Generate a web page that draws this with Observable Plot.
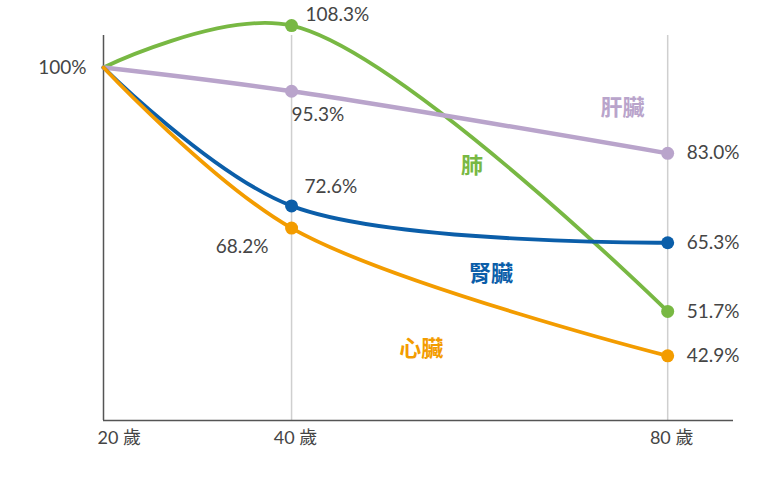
<!DOCTYPE html>
<html>
<head>
<meta charset="utf-8">
<script src="https://cdn.jsdelivr.net/npm/d3@7"></script>
<script src="https://cdn.jsdelivr.net/npm/@observablehq/plot@0.6"></script>
<style>
  html, body { margin: 0; padding: 0; background: #fff; }
  #chart svg { display: block; }
</style>
</head>
<body>
<div id="chart"></div>
<script>
// ---- data ----
const ages = [20, 40, 80];
const seriesNames = ["肺", "肝臟", "腎臟", "心臟"];
const lung   = [100, 108.3, 51.7];
const liver  = [100, 95.3, 83.0];
const kidney = [100, 72.6, 65.3];
const heart  = [100, 68.2, 42.9];
const seriesColors = ["#78b843", "#b9a4cb", "#0b5ea9", "#f39c00"];
const seriesWidths = [3.8, 4.4, 3.8, 3.8];
const xTickLabels = ["20 歲", "40 歲", "80 歲"];
const yTicks = [100];
// where each organ's name is written (age, %)
const nameAtAge = [59.2, 75.2, 61.2, 53.8];
const nameAtPct = [80.6, 91.9, 59.2, 44.2];
// label placement for the value labels (series index, age) -> offsets
const labelPlacement = {
  "0-40": {dx: 14, dy: -11, anchor: "start"},
  "1-40": {dx: 0, dy: 24, anchor: "start"},
  "2-40": {dx: 13, dy: -19, anchor: "start"},
  "3-40": {dx: -23, dy: 19, anchor: "end"},
  "0-80": {dx: 19, dy: 0, anchor: "start"},
  "1-80": {dx: 19, dy: 0, anchor: "start"},
  "2-80": {dx: 19, dy: 0, anchor: "start"},
  "3-80": {dx: 19, dy: 0, anchor: "start"}
};

const allValues = [lung, liver, kidney, heart];
const rows = [];
allValues.forEach((vals, s) => {
  vals.forEach((v, i) => rows.push({series: seriesNames[s], s, age: ages[i], value: v}));
});
const names = seriesNames.map((n, s) => ({name: n, s, age: nameAtAge[s], value: nameAtPct[s]}));
const labelRows = rows.filter(d => d.age !== 20);

const yDomain = [30.1, 106.34];
const font = "Lato, 'Noto Sans CJK TC', sans-serif";
const textGray = "#454545";

const marks = [
  Plot.ruleX([40, 80], {stroke: "#cfcfcf", strokeWidth: 1.5}),
  Plot.ruleX([ages[0]], {stroke: "#555", strokeWidth: 1.5}),
  Plot.ruleY([yDomain[0]], {stroke: "#555", strokeWidth: 1.5}),
  Plot.axisY({ticks: yTicks, label: null, tickSize: 0, tickPadding: 17, tickFormat: d => d + "%", fontSize: 19, fill: textGray}),
  Plot.text([ages[0]], {x: d => d, y: yDomain[0], text: (d, i) => xTickLabels[0], textAnchor: "start", lineAnchor: "top", dx: -6, dy: 11, fontSize: 18, fill: textGray}),
  Plot.text(ages.slice(1), {x: d => d, y: yDomain[0], text: (d, i) => xTickLabels[i + 1], textAnchor: "middle", lineAnchor: "top", dx: 4, dy: 11, fontSize: 18, fill: textGray}),
];
seriesNames.forEach((n, s) => {
  const data = rows.filter(d => d.s === s);
  marks.push(Plot.line(data, {x: "age", y: "value", curve: "catmull-rom", stroke: seriesColors[s], strokeWidth: seriesWidths[s]}));
});
seriesNames.forEach((n, s) => {
  const data = rows.filter(d => d.s === s && d.age !== 20);
  marks.push(Plot.dot(data, {x: "age", y: "value", r: 6.5, fill: seriesColors[s], stroke: "none"}));
});
labelRows.forEach(d => {
  const p = labelPlacement[d.s + "-" + d.age];
  marks.push(Plot.text([d], {x: "age", y: "value", text: d => d.value.toFixed(1) + "%", dx: p.dx, dy: p.dy, textAnchor: p.anchor, fontSize: 19, fill: textGray}));
});
names.forEach(d => {
  marks.push(Plot.text([d], {x: "age", y: "value", text: "name", fontSize: 22, fontWeight: "bold", fill: seriesColors[d.s]}));
});

const chart = Plot.plot({
  width: 780,
  height: 492,
  marginTop: 35,
  marginBottom: 72,
  marginLeft: 103,
  marginRight: 47,
  style: {fontFamily: font, background: "#fff"},
  x: {domain: [20, 87], axis: null},
  y: {domain: yDomain, axis: null},
  marks
});
document.getElementById("chart").appendChild(chart);
</script>
</body>
</html>
